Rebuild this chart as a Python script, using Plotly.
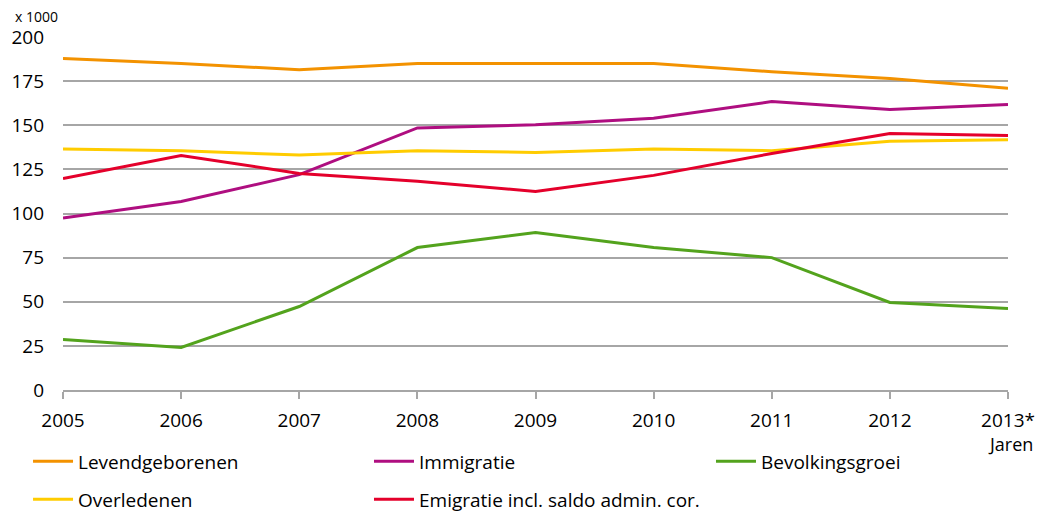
import plotly.graph_objects as go

years = ["2005", "2006", "2007", "2008", "2009", "2010", "2011", "2012", "2013*"]
levendgeborenen = [187.8, 185.0, 181.5, 185.0, 185.0, 185.0, 180.3, 176.5, 171.0]
immigratie = [97.5, 106.8, 122.0, 148.5, 150.3, 154.0, 163.4, 158.9, 161.7]
bevolkingsgroei = [28.6, 24.1, 47.3, 80.7, 89.2, 80.7, 75.0, 49.6, 46.2]
overledenen = [136.6, 135.6, 133.1, 135.5, 134.6, 136.5, 135.6, 141.0, 141.8]
emigratie = [119.8, 132.9, 122.7, 118.3, 112.5, 121.6, 134.0, 145.3, 144.2]
y_ticks = [0, 25, 50, 75, 100, 125, 150, 175, 200]

# name, values, colour, legend id, legend x, legend y (paper)
series = [
    ("Levendgeborenen", levendgeborenen, "#F39200", "legend", -0.037, -0.2025),
    ("Immigratie", immigratie, "#AF0E80", "legend2", 0.3238, -0.2025),
    ("Bevolkingsgroei", bevolkingsgroei, "#53A31D", "legend3", 0.6857, -0.2025),
    ("Overledenen", overledenen, "#FFCC00", "legend4", -0.037, -0.310),
    ("Emigratie incl. saldo admin. cor.", emigratie, "#E4002B", "legend5", 0.3238, -0.310),
]

font_family = "Open Sans"
fig = go.Figure()
legends = {}
for name, vals, color, leg, lx, ly in series:
    fig.add_trace(go.Scatter(
        x=years, y=vals, mode="lines", name=name,
        line=dict(color=color, width=3), legend=leg,
    ))
    legends[leg] = dict(
        x=lx, y=ly, xanchor="left", yanchor="middle", orientation="h",
        font=dict(family=font_family, size=19, color="#000000"),
        bgcolor="rgba(0,0,0,0)", itemwidth=40,
    )

# page body has an 8px margin, so the figure is 8px smaller than the window
fig.update_layout(
    width=1036, height=507,
    margin=dict(l=55, r=36, t=29, b=125, autoexpand=False),
    paper_bgcolor="white", plot_bgcolor="white",
    font=dict(family=font_family, size=19, color="#000000"),
    showlegend=True,
    xaxis=dict(
        type="category", range=[0, 8], showgrid=False, zeroline=False,
        showline=True, linecolor="#A6A6A6", linewidth=2,
        ticks="outside", ticklen=7, tickwidth=2, tickcolor="#A6A6A6",
        ticklabelstandoff=5, tickfont=dict(size=19),
    ),
    yaxis=dict(
        range=[0, 200], tickvals=y_ticks, showgrid=True,
        gridcolor="#A6A6A6", gridwidth=2, zeroline=False, showline=False,
        ticks="", ticklabelstandoff=18, tickfont=dict(size=19),
    ),
    annotations=[
        dict(text="x 1000", xref="paper", yref="paper", x=-0.0529, y=1.058,
             xanchor="left", yanchor="middle", showarrow=False,
             font=dict(size=14, family=font_family)),
        dict(text="Jaren", xref="paper", yref="paper", x=1.0286, y=-0.154,
             xanchor="right", yanchor="middle", showarrow=False,
             font=dict(size=18, family=font_family)),
    ],
    **legends,
)

fig.write_html("out.html")
